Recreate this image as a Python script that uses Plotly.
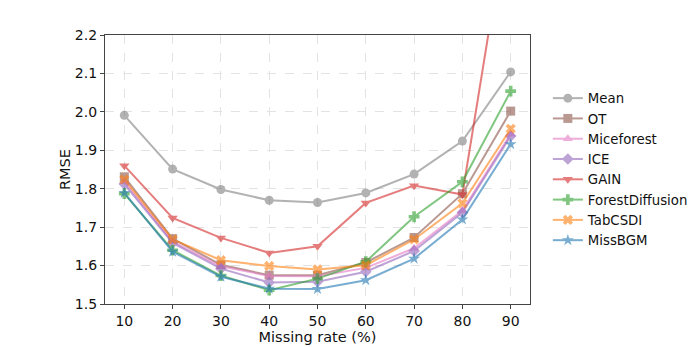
import plotly.graph_objects as go

missing_rate = [10, 20, 30, 40, 50, 60, 70, 80, 90]

mean_rmse = [1.991, 1.851, 1.798, 1.770, 1.764, 1.789, 1.838, 1.924, 2.104]
ot_rmse = [1.831, 1.670, 1.602, 1.575, 1.575, 1.608, 1.673, 1.787, 2.002]
miceforest_rmse = [1.818, 1.662, 1.598, 1.573, 1.572, 1.594, 1.645, 1.743, 1.942]
ice_rmse = [1.812, 1.659, 1.592, 1.556, 1.558, 1.584, 1.638, 1.738, 1.937]
gain_rmse = [1.860, 1.724, 1.672, 1.633, 1.650, 1.763, 1.808, 1.785, 2.560]
forestdiffusion_rmse = [1.787, 1.640, 1.574, 1.536, 1.566, 1.610, 1.727, 1.818, 2.054]
tabcsdi_rmse = [1.824, 1.668, 1.614, 1.599, 1.590, 1.601, 1.668, 1.762, 1.956]
missbgm_rmse = [1.789, 1.636, 1.571, 1.540, 1.539, 1.562, 1.618, 1.720, 1.916]

series = [
    ("Mean", mean_rmse, "#7f7f7f", "circle"),
    ("OT", ot_rmse, "#8c564b", "square"),
    ("Miceforest", miceforest_rmse, "#e377c2", "triangle-up"),
    ("ICE", ice_rmse, "#9467bd", "diamond"),
    ("GAIN", gain_rmse, "#d62728", "triangle-down"),
    ("ForestDiffusion", forestdiffusion_rmse, "#2ca02c", "cross"),
    ("TabCSDI", tabcsdi_rmse, "#ff7f0e", "x"),
    ("MissBGM", missbgm_rmse, "#1f77b4", "star"),
]

fig = go.Figure()
for name, vals, color, sym in series:
    fig.add_trace(go.Scatter(
        x=missing_rate, y=vals, name=name, mode="lines+markers",
        line=dict(color=color, width=2),
        marker=dict(symbol=sym, size=9, color=color),
        opacity=0.6,
    ))

font = "DejaVu Sans, sans-serif"
axis_common = dict(
    showline=True, mirror=True, linecolor="#444444", linewidth=1.3,
    ticks="outside", ticklen=4, tickcolor="#444444",
    showgrid=True, gridcolor="#e3e3e3", griddash="dash", gridwidth=1,
    zeroline=False, tickfont=dict(family=font, size=14, color="#111111"),
    automargin=False,
)

fig.update_layout(
    width=697, height=347,
    margin=dict(l=105, r=167, t=35, b=43, autoexpand=False),
    plot_bgcolor="white", paper_bgcolor="white",
    font=dict(family=font, size=14, color="#111111"),
    xaxis=dict(range=[6, 94], tickvals=missing_rate,
               title=dict(text="Missing rate (%)", font=dict(family=font, size=14.5), standoff=1),
               **axis_common),
    yaxis=dict(range=[1.5, 2.2], dtick=0.1, tickformat=".1f",
               title=dict(text="RMSE", font=dict(family=font, size=14.5), standoff=0),
               **axis_common),
    legend=dict(x=1.042, y=0.5, xanchor="left", yanchor="middle",
                font=dict(family=font, size=13.3), bgcolor="rgba(0,0,0,0)",
                tracegroupgap=0, itemwidth=30),
    showlegend=True,
)

fig.write_html("out.html")
